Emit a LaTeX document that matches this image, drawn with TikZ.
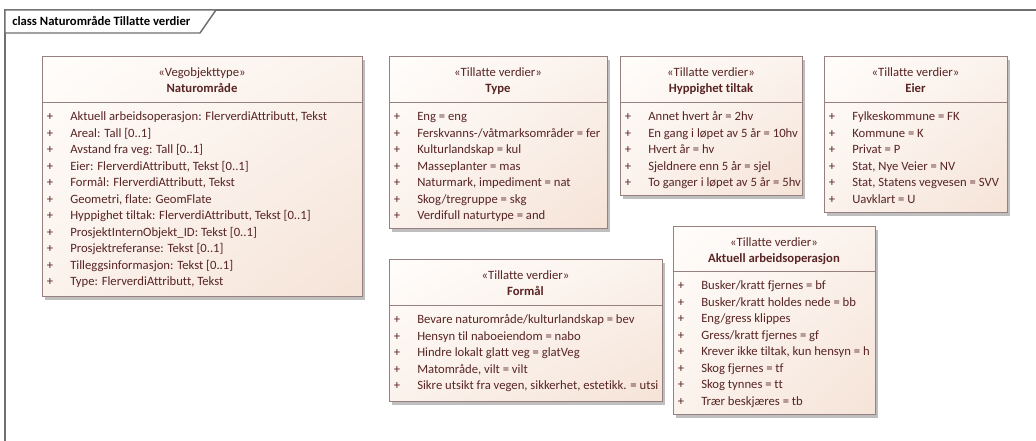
\documentclass[tikz,border=0pt]{standalone}
\usepackage{fontspec}
\setmainfont{Carlito}[Ligatures=NoCommon]
\usetikzlibrary{shadows,shadings}
\definecolor{frameline}{RGB}{112,112,112}
\definecolor{boxline}{RGB}{150,128,128}
\definecolor{boxtop}{RGB}{255,253,251}
\definecolor{boxmid}{RGB}{251,242,236}
\definecolor{boxbot}{RGB}{245,227,215}
\definecolor{txt}{RGB}{88,36,36}
\tikzset{
  frame/.style={draw=frameline, line width=1.1pt},
  classbox/.style={draw=boxline, line width=0.75pt, inner sep=0pt, outer sep=0pt,
    upper left=boxtop, upper right=boxmid, lower left=boxmid, lower right=boxbot,
    drop shadow={shadow xshift=2.2pt, shadow yshift=-2.2pt, fill=black, opacity=0.25}},
  divline/.style={draw=boxline, line width=0.75pt},
  txtbase/.style={inner sep=0pt, text=txt, font=\fontsize{9.5}{12}\selectfont},
  stereo/.style={txtbase, anchor=base},
  ctitle/.style={txtbase, anchor=base, font=\fontsize{9.5}{12}\selectfont\bfseries},
  plus/.style={txtbase, anchor=base},
  item/.style={txtbase, anchor=base west},
  ftitle/.style={inner sep=0pt, anchor=base west, text=black, font=\fontsize{9.5}{12}\selectfont\bfseries}
}
\newcommand\umlclass[9]{%
  \node[classbox, anchor=north west, minimum width={(#4-#2)*0.75pt}, minimum height={(#6-#3)*0.75pt}] (#1) at (#2,#3) {};
  \draw[divline] (#2,#5) -- (#4,#5);
  \node[stereo] (#1s) at ({(#2+#4)/2},{#3+20}) {«#7»};
  \node[ctitle] (#1t) at ({(#2+#4)/2},{#3+35.5}) {#8};
  \foreach \t [count=\i from 0] in {#9} {
    \node[plus] (#1p\i) at ({#2+8},{#5+18+\i*16.5}) {+};
    \node[item] (#1i\i) at ({#2+28},{#5+18+\i*16.5}) {\t};
  }%
}
\begin{document}
\begin{tikzpicture}[x=0.75pt,y=-0.75pt]
\useasboundingbox (0,0) rectangle (1036,441);
\draw[frame] (1036,10) -- (5,10) -- (5,441);
\draw[frame, fill=white] (5,10) -- (216,10) -- (200,33) -- (5,33) -- cycle;
\node[ftitle] (ftitle) at (12,26) {class Naturområde Tillatte verdier};

\umlclass{nat}{42}{57}{362}{103}{297}{Vegobjekttype}{Naturområde}{
  {Aktuell arbeidsoperasjon: FlerverdiAttributt, Tekst},
  {Areal: Tall [0..1]},
  {Avstand fra veg: Tall [0..1]},
  {Eier: FlerverdiAttributt, Tekst [0..1]},
  {Formål: FlerverdiAttributt, Tekst},
  {Geometri, flate: GeomFlate},
  {Hyppighet tiltak: FlerverdiAttributt, Tekst [0..1]},
  {ProsjektInternObjekt\_ID: Tekst [0..1]},
  {Prosjektreferanse: Tekst [0..1]},
  {Tilleggsinformasjon: Tekst [0..1]},
  {Type: FlerverdiAttributt, Tekst}}

\umlclass{typ}{389}{57}{607}{103}{229}{Tillatte verdier}{Type}{
  {Eng = eng},
  {Ferskvanns-/våtmarksområder = fer},
  {Kulturlandskap = kul},
  {Masseplanter = mas},
  {Naturmark, impediment = nat},
  {Skog/tregruppe = skg},
  {Verdifull naturtype = and}}

\umlclass{hyp}{620}{57}{802}{103}{196}{Tillatte verdier}{Hyppighet tiltak}{
  {Annet hvert år = 2hv},
  {En gang i løpet av 5 år = 10hv},
  {Hvert år = hv},
  {Sjeldnere enn 5 år = sjel},
  {To ganger i løpet av 5 år = 5hv}}

\umlclass{eier}{824}{57}{1007}{103}{213}{Tillatte verdier}{Eier}{
  {Fylkeskommune = FK},
  {Kommune = K},
  {Privat = P},
  {Stat, Nye Veier = NV},
  {Stat, Statens vegvesen = SVV},
  {Uavklart = U}}

\umlclass{form}{389}{260}{662}{306}{402}{Tillatte verdier}{Formål}{
  {Bevare naturområde/kulturlandskap = bev},
  {Hensyn til naboeiendom = nabo},
  {Hindre lokalt glatt veg = glatVeg},
  {Matområde, vilt = vilt},
  {Sikre utsikt fra vegen, sikkerhet, estetikk. = utsi}}

\umlclass{akt}{673}{227}{875}{272}{415}{Tillatte verdier}{Aktuell arbeidsoperasjon}{
  {Busker/kratt fjernes = bf},
  {Busker/kratt holdes nede = bb},
  {Eng/gress klippes},
  {Gress/kratt fjernes = gf},
  {Krever ikke tiltak, kun hensyn = h},
  {Skog fjernes = tf},
  {Skog tynnes = tt},
  {Trær beskjæres = tb}}
\end{tikzpicture}
\end{document}
